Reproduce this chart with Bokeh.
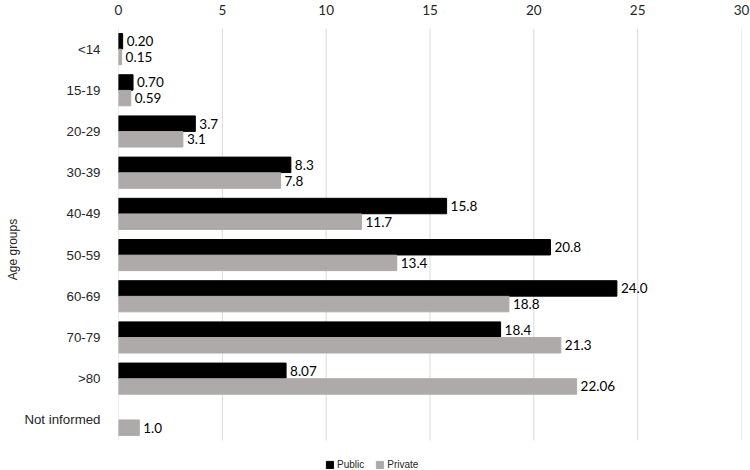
from bokeh.plotting import figure
from bokeh.models import (ColumnDataSource, Range1d, Legend, LegendItem,
                          Title, FixedTicker, LabelSet)
from bokeh.core.properties import value
from bokeh.embed import file_html
from bokeh.resources import INLINE

# Age groups, listed top to bottom
age_groups = ["<14", "15-19", "20-29", "30-39", "40-49", "50-59", "60-69", "70-79", ">80", "Not informed"]

# Public sector (no value for "Not informed")
public_groups = ["<14", "15-19", "20-29", "30-39", "40-49", "50-59", "60-69", "70-79", ">80"]
public_values = [0.20, 0.70, 3.7, 8.3, 15.8, 20.8, 24.0, 18.4, 8.07]
public_decimals = [2, 2, 1, 1, 1, 1, 1, 1, 2]

# Private sector
private_groups = age_groups
private_values = [0.15, 0.59, 3.1, 7.8, 11.7, 13.4, 18.8, 21.3, 22.06, 1.0]
private_decimals = [2, 2, 1, 1, 1, 1, 1, 1, 2, 1]

x_ticks = [0, 5, 10, 15, 20, 25, 30]

PUBLIC_COLOR = "#000000"
PRIVATE_COLOR = "#AEAAAA"
GRID_COLOR = "#D9D9D9"
BAR_H = 0.375
OFFSET = 0.19
LEGEND_ROOM = 0.73  # extra band under the last group that holds the legend

# each group occupies one unit on the (downward) category scale
slot = {g: i + 0.5 for i, g in enumerate(age_groups)}

pub_src = ColumnDataSource(dict(
    y=[slot[g] - OFFSET for g in public_groups], value=public_values,
    label=[f"{v:.{d}f}" for v, d in zip(public_values, public_decimals)]))
prv_src = ColumnDataSource(dict(
    y=[slot[g] + OFFSET for g in private_groups], value=private_values,
    label=[f"{v:.{d}f}" for v, d in zip(private_values, private_decimals)]))

n = len(age_groups)
p = figure(width=750, height=470, output_backend="svg", toolbar_location=None,
           y_range=Range1d(n + LEGEND_ROOM, 0), x_range=Range1d(0, 30),
           x_axis_location="above",
           min_border_left=118, min_border_right=9, min_border_top=28, min_border_bottom=0)

# vertical gridlines spanning the group rows only
p.segment(x0=x_ticks, x1=x_ticks, y0=[0] * len(x_ticks), y1=[n] * len(x_ticks),
          line_color=GRID_COLOR, line_width=1)

r_pub = p.hbar(y="y", right="value", left=0, height=BAR_H, color=PUBLIC_COLOR, source=pub_src)
r_prv = p.hbar(y="y", right="value", left=0, height=BAR_H, color=PRIVATE_COLOR, source=prv_src)

label_style = dict(text_font=value("Lato"), text_font_size=value("13.5px"), text_color="#000000",
                   text_baseline="middle", text_align="left", x_offset=4)
p.add_layout(LabelSet(x="value", y="y", text="label", source=pub_src, **label_style))
p.add_layout(LabelSet(x="value", y="y", text="label", source=prv_src, **label_style))

# Axes
p.outline_line_color = None
p.xgrid.grid_line_color = None
p.ygrid.grid_line_color = None

xa = p.xaxis[0]
xa.ticker = FixedTicker(ticks=x_ticks)
xa.axis_line_color = None
xa.major_tick_line_color = None
xa.minor_tick_line_color = None
xa.major_label_text_font = "Lato"
xa.major_label_text_font_size = "13.5px"
xa.major_label_text_color = "#262626"
xa.major_label_standoff = 8

ya = p.yaxis[0]
ya.ticker = FixedTicker(ticks=[slot[g] for g in age_groups], minor_ticks=[])
ya.major_label_overrides = {slot[g]: g for g in age_groups}
ya.axis_line_color = None
ya.major_tick_line_color = None
ya.minor_tick_line_color = None
ya.major_label_text_font = "Liberation Sans"
ya.major_label_text_font_size = "13.3px"
ya.major_label_text_color = "#262626"
ya.major_label_standoff = 12

p.add_layout(Title(text="Age groups", align="center", text_font="Liberation Sans",
                   text_font_size="12px", text_font_style="normal", text_color="#262626",
                   standoff=4), "left")

# Legend in the band below the groups
legend = Legend(items=[LegendItem(label="Public", renderers=[r_pub]),
                       LegendItem(label="Private", renderers=[r_prv])],
                orientation="horizontal", location=(207, 0),
                label_text_font="Liberation Sans", label_text_font_size="10px",
                label_text_color="#262626", label_height=12,
                glyph_width=9, glyph_height=9, label_standoff=3, spacing=11,
                padding=0, margin=0, border_line_color=None, background_fill_alpha=0)
p.add_layout(legend)

open("out.html", "w").write(file_html(p, INLINE))
